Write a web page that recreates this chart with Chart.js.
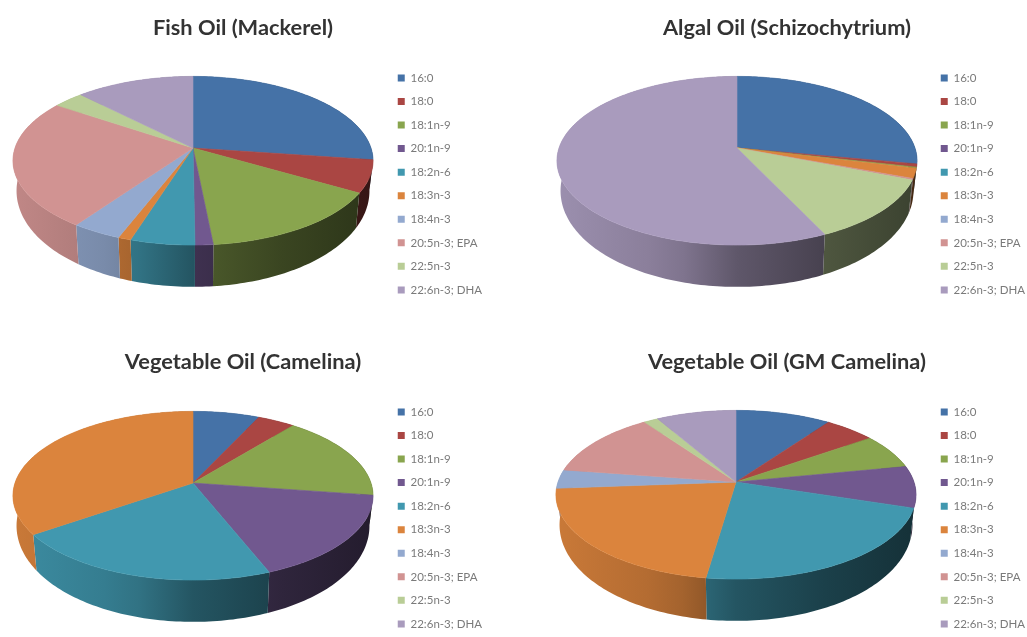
<!DOCTYPE html>
<html>
<head>
<meta charset="utf-8">
<title>Fatty acid profiles</title>
<script src="https://cdn.jsdelivr.net/npm/chart.js@4"></script>
<style>
    html, body { margin: 0; padding: 0; background: #fff; overflow: hidden; }
    body { position: relative; width: 1027px; height: 637px; }
    .panel { position: absolute; height: 320px; }
    .left { left: -6px; width: 498px; }
    .right { left: 539px; width: 496px; }
</style>
</head>
<body>
<div class="panel left" style="top:10px;"><canvas id="fishChart"></canvas></div>
<div class="panel right" style="top:10px;"><canvas id="algalChart"></canvas></div>
<div class="panel left" style="top:344px;"><canvas id="camelinaChart"></canvas></div>
<div class="panel right" style="top:344px;"><canvas id="gmChart"></canvas></div>

<script>
// --- Data: percent of total fatty acids ---
const fattyAcids = ['16:0', '18:0', '18:1n-9', '20:1n-9', '18:2n-6', '18:3n-3', '18:4n-3', '20:5n-3; EPA', '22:5n-3', '22:6n-3; DHA'];
const fishOil = [27.2, 6.2, 15.0, 1.4, 5.0, 1.0, 3.9, 24.7, 3.2, 12.3];
const algalOil = [28.0, 0.6, 0.2, 0, 0, 1.9, 0, 0.3, 12.0, 57.0];
const camelinaOil = [6.9, 3.9, 16.5, 16.7, 21.3, 34.7, 0, 0, 0, 0];
const gmCamelinaOil = [9.9, 5.3, 6.7, 8.0, 22.4, 21.5, 3.6, 12.8, 1.5, 8.3];
const sliceColors = ['#4572a7', '#aa4643', '#89a54e', '#71588f', '#4198af', '#db843d', '#93a9cf', '#d19392', '#b9cd96', '#a99bbd'];

// --- Tilted disc look ---
const radius = 178;
const squash = 0.463;      // vertical scale of the disc
const perspective = 0.151; // near edge of the disc looks bigger than the far edge
const wallShrink = 0.98;   // lower rim is a little narrower
const wallBase = 28;       // wall height at the widest point
const wallFront = 13.8;    // extra wall height towards the viewer
const wallShades = [[0, 0.92], [0.25, 0.82], [0.35, 0.75], [0.5, 0.56], [0.75, 0.42], [1, 0.32]];

function shade(hex, f) {
    const n = parseInt(hex.slice(1), 16);
    return `rgb(${Math.round((n >> 16) * f)}, ${Math.round(((n >> 8) & 255) * f)}, ${Math.round((n & 255) * f)})`;
}

// circle angle -> point on the top face, relative to the apex
function project(angle) {
    const u = Math.cos(angle);
    const v = Math.sin(angle);
    const w = 1 - perspective * v;
    return { x: radius * u / w, y: radius * squash * v / w, v: v };
}

function rimPoints(start, end) {
    const steps = Math.max(2, Math.ceil((end - start) / 0.02));
    const pts = [];
    for (let i = 0; i <= steps; i++) {
        pts.push(project(start + (end - start) * i / steps));
    }
    return pts;
}

// Replaces the flat arcs with a disc, using the angles the pie controller worked out
const tiltedPie = {
    id: 'tiltedPie',
    beforeDatasetsDraw(chart, args, opts) {
        const ctx = chart.ctx;
        const arcs = chart.getDatasetMeta(0).data;
        const cx = opts.apexX;
        const cy = opts.apexY;
        const colors = chart.data.datasets[0].backgroundColor;

        ctx.save();
        ctx.lineJoin = 'round';

        // walls first, the top face hides whatever is at the back
        arcs.forEach((arc, i) => {
            if (arc.endAngle - arc.startAngle <= 0) return;
            const pts = rimPoints(arc.startAngle, arc.endAngle);
            const grad = ctx.createLinearGradient(cx - radius, 0, cx + radius, 0);
            wallShades.forEach(s => grad.addColorStop(s[0], shade(colors[i], s[1])));
            ctx.beginPath();
            pts.forEach((p, j) => {
                if (j === 0) ctx.moveTo(cx + p.x, cy + p.y);
                else ctx.lineTo(cx + p.x, cy + p.y);
            });
            pts.slice().reverse().forEach(p => {
                ctx.lineTo(cx + p.x * wallShrink, cy + p.y + wallBase + wallFront * p.v);
            });
            ctx.closePath();
            ctx.fillStyle = grad;
            ctx.fill();
        });

        arcs.forEach((arc, i) => {
            if (arc.endAngle - arc.startAngle <= 0) return;
            ctx.beginPath();
            ctx.moveTo(cx, cy);
            rimPoints(arc.startAngle, arc.endAngle).forEach(p => ctx.lineTo(cx + p.x, cy + p.y));
            ctx.closePath();
            ctx.fillStyle = colors[i];
            ctx.strokeStyle = colors[i];
            ctx.lineWidth = 0.6;
            ctx.fill();
            ctx.stroke();
        });

        ctx.restore();
        return false;
    }
};

function makePie(canvasId, titleText, values, apexX, apexY) {
    return new Chart(document.getElementById(canvasId), {
        type: 'pie',
        data: {
            labels: fattyAcids,
            datasets: [{
                data: values,
                backgroundColor: sliceColors,
                borderWidth: 0
            }]
        },
        options: {
            responsive: true,
            maintainAspectRatio: false,
            animation: false,
            radius: radius,
            plugins: {
                title: {
                    display: true,
                    text: titleText,
                    color: '#333333',
                    font: { family: "'Lato', sans-serif", size: 21.8, weight: 'bold' },
                    padding: { top: 5, bottom: 19 }
                },
                legend: {
                    position: 'right',
                    align: 'start',
                    fullSize: false,
                    labels: {
                        boxWidth: 7,
                        boxHeight: 7,
                        padding: 12.05,
                        color: '#7a7a7a',
                        font: { family: "'Lato', sans-serif", size: 11.5 }
                    }
                },
                tooltip: { enabled: false },
                tiltedPie: { apexX: apexX, apexY: apexY }
            }
        },
        plugins: [tiltedPie]
    });
}

// apex positions are in each canvas' own pixels
makePie('fishChart', 'Fish Oil (Mackerel)', fishOil, 199, 138);
makePie('algalChart', 'Algal Oil (Schizochytrium)', algalOil, 198, 138);
makePie('camelinaChart', 'Vegetable Oil (Camelina)', camelinaOil, 199, 139);
makePie('gmChart', 'Vegetable Oil (GM Camelina)', gmCamelinaOil, 197, 138);
</script>
</body>
</html>
